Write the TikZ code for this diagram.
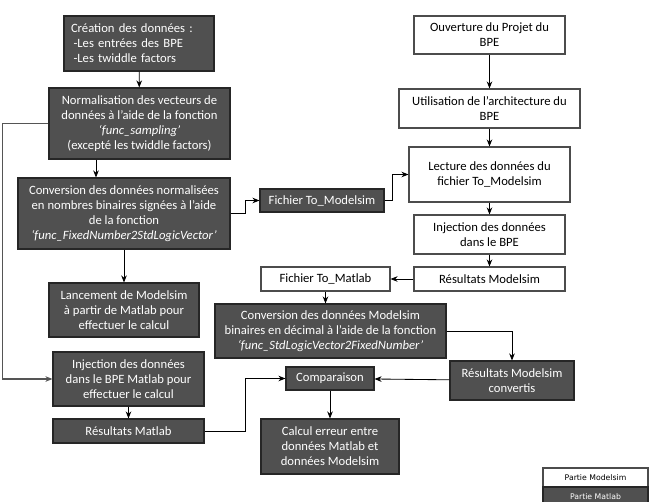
\documentclass[tikz,border=0pt]{standalone}
\usepackage{fontspec}
\setmainfont{Carlito}
\newfontfamily\legfont{DejaVu Sans}
\usetikzlibrary{arrows.meta}
\newlength\pxu
\setlength\pxu{0.025cm}
\definecolor{matgray}{RGB}{80,80,80}
\definecolor{fbgray}{RGB}{85,85,85}
\tikzset{
  box/.style 2 args={minimum width=#1\pxu, minimum height=#2\pxu, inner sep=1pt,
    align=center, line width=0.8pt, font=\fontsize{9}{10.6}\selectfont},
  matlab/.style={draw=black!85, fill=matgray, text=white},
  modelsim/.style={draw=black!70, fill=white, text=black},
  arr/.style={-{Stealth[length=5pt,width=4pt]}, line width=0.6pt},
}

\begin{document}
\begin{tikzpicture}[x=0.025cm, y=-0.025cm]
\useasboundingbox (0,0) rectangle (659,501);

\node[matlab, box={150}{55}, align=left, text width=136\pxu] (crea) at (139,43.5) {Création des données :\\\hspace*{0.2em}-Les entrées des BPE\\\hspace*{0.2em}-Les twiddle factors};
\node[matlab, box={181}{71}] (norm) at (139.5,123.5) {Normalisation des vecteurs de\\données à l’aide de la fonction\\\textit{‘func\_sampling’}\\(excepté les twiddle factors)};
\node[matlab, box={212}{71}] (convn) at (124,213.5) {Conversion des données normalisées\\en nombres binaires signées à l’aide\\de la fonction\\\textit{‘func\_FixedNumber2StdLogicVector’}};
\node[matlab, box={150}{54}] (lanc) at (124,310) {Lancement de Modelsim\\à partir de Matlab pour\\effectuer le calcul};
\node[matlab, box={151}{54}] (injm) at (128.5,379) {Injection des données\\dans le BPE Matlab pour\\effectuer le calcul};
\node[matlab, box={151}{24}] (resm) at (128.5,431) {Résultats Matlab};
\node[matlab, box={124}{23}] (fichmod) at (322,200.5) {Fichier To\_Modelsim};

\node[modelsim, box={151}{38}] (ouv) at (489.5,35) {Ouverture du Projet du\\BPE};
\node[modelsim, box={181}{39}] (util) at (489.5,108.5) {Utilisation de l’architecture du\\BPE};
\node[modelsim, box={161}{55}] (lect) at (489.5,174.5) {Lecture des données du\\fichier To\_Modelsim};
\node[modelsim, box={151}{39}] (injb) at (489.5,234.5) {Injection des données\\dans le BPE};
\node[modelsim, box={151}{24}] (resmod) at (489.5,279) {Résultats Modelsim};
\node[modelsim, box={129}{24}] (fichmat) at (325.5,279) {Fichier To\_Matlab};

\node[matlab, box={231}{54}] (convm) at (330.5,331) {Conversion des données Modelsim\\binaires en décimal à l’aide de la fonction\\\textit{‘func\_StdLogicVector2FixedNumber’}};
\node[matlab, box={124}{39}] (resconv) at (512,380.5) {Résultats Modelsim\\convertis};
\node[matlab, box={88}{23}] (comp) at (330,378.5) {Comparaison};
\node[matlab, box={138}{55}] (calc) at (330,446.5) {Calcul erreur entre\\données Matlab et\\données Modelsim};

\node[modelsim, box={105}{19}, font=\legfont\fontsize{5.5}{6}\selectfont] (legmod) at (595.5,477.5) {Partie Modelsim};
\node[matlab, box={105}{19}, font=\legfont\fontsize{5.5}{6}\selectfont] (legmat) at (595.5,496.5) {Partie Matlab};

\coordinate (c1) at (96,0);
\draw[arr] (crea) -- (norm);
\draw[arr] (norm.south -| c1) -- (convn.north -| c1);
\draw[arr] (convn) -- (lanc);
\draw[arr] (convn.east) -- ++(15,0) |- (fichmod.west);
\draw[arr] (fichmod.east) -- ++(8,0) |- (lect.west);
\draw[arr] (ouv) -- (util);
\draw[arr] (util) -- (lect);
\draw[arr] (lect) -- (injb);
\draw[arr] (injb) -- (resmod);
\draw[arr] (resmod) -- (fichmat);
\draw[arr] (fichmat.south) -- (fichmat.south |- convm.north);
\draw[arr] (convm.east) -| (resconv.north);
\draw[arr] (resconv) -- (comp);
\draw[arr] (comp) -- (calc);
\draw[arr, fbgray, line width=0.8pt] (norm.west) -- ++(-46,0) |- (injm.west);
\draw[arr] (injm) -- (resm);
\draw[arr] (resm.east) -- ++(41,0) |- (comp.west);
\end{tikzpicture}
\end{document}
